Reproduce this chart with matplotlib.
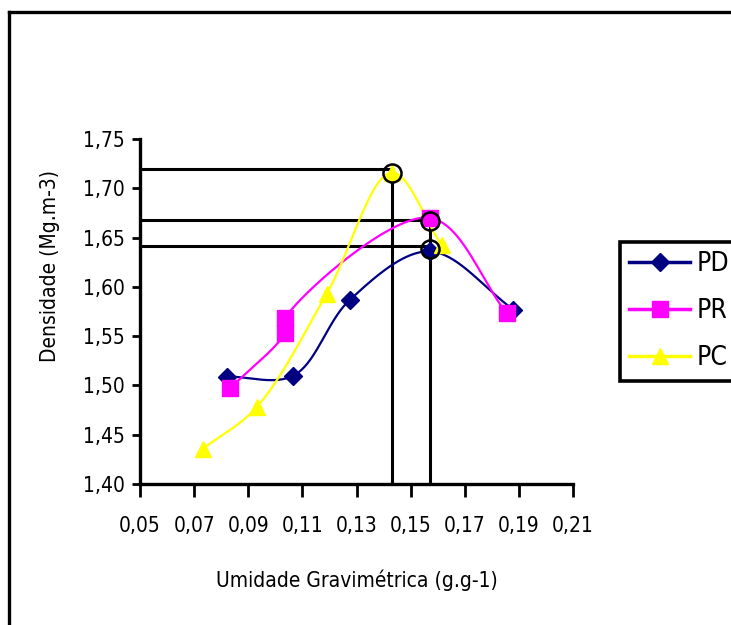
import numpy as np
import matplotlib.pyplot as plt
from matplotlib.lines import Line2D

# moisture (g/g) and bulk density (Mg/m3) for each soil treatment
pd_x = [0.082, 0.1067, 0.1276, 0.157, 0.188]
pd_y = [1.509, 1.510, 1.587, 1.636, 1.577]

pr_x = [0.0833, 0.1034, 0.1036, 0.157, 0.1856]
pr_y = [1.497, 1.553, 1.568, 1.670, 1.573]

pc_x = [0.0734, 0.0931, 0.119, 0.143, 0.1615]
pc_y = [1.436, 1.478, 1.593, 1.716, 1.642]

# optimum moisture / max density read-off per curve
opt_x = [0.143, 0.157, 0.157]
opt_y = [1.720, 1.668, 1.641]
opt_mark_y = [1.716, 1.667, 1.638]

x_ticks = [0.05, 0.07, 0.09, 0.11, 0.13, 0.15, 0.17, 0.19, 0.21]
y_ticks = [1.40, 1.45, 1.50, 1.55, 1.60, 1.65, 1.70, 1.75]

XLIM = (0.05, 0.21)
YLIM = (1.40, 1.75)
FONT = dict(family='DejaVu Sans', stretch='condensed')


def smooth(xs, ys, n=40):
    # centripetal Catmull-Rom through the points, worked out in axis-fraction units
    sx = (np.asarray(xs) - XLIM[0]) / (XLIM[1] - XLIM[0]) * 433
    sy = (np.asarray(ys) - YLIM[0]) / (YLIM[1] - YLIM[0]) * 345
    p = np.column_stack([sx, sy])
    p = np.vstack([2 * p[0] - p[1], p, 2 * p[-1] - p[-2]])
    out = []
    for i in range(1, len(p) - 2):
        p0, p1, p2, p3 = p[i - 1], p[i], p[i + 1], p[i + 2]
        t0 = 0.0
        t1 = t0 + np.linalg.norm(p1 - p0) ** 0.5
        t2 = t1 + np.linalg.norm(p2 - p1) ** 0.5
        t3 = t2 + np.linalg.norm(p3 - p2) ** 0.5
        t = np.linspace(t1, t2, n)[:, None]
        a1 = (t1 - t) / (t1 - t0) * p0 + (t - t0) / (t1 - t0) * p1
        a2 = (t2 - t) / (t2 - t1) * p1 + (t - t1) / (t2 - t1) * p2
        a3 = (t3 - t) / (t3 - t2) * p2 + (t - t2) / (t3 - t2) * p3
        b1 = (t2 - t) / (t2 - t0) * a1 + (t - t0) / (t2 - t0) * a2
        b2 = (t3 - t) / (t3 - t1) * a2 + (t - t1) / (t3 - t1) * a3
        out.append((t2 - t) / (t2 - t1) * b1 + (t - t1) / (t2 - t1) * b2)
    out = np.vstack(out)
    cx = XLIM[0] + out[:, 0] / 433 * (XLIM[1] - XLIM[0])
    cy = YLIM[0] + out[:, 1] / 345 * (YLIM[1] - YLIM[0])
    return cx, cy


fig = plt.figure(figsize=(7.31, 6.25), dpi=100)
ax = fig.add_axes([140 / 731, 1 - 484 / 625, 433 / 731, 345 / 625])

series = [
    ('PD', pd_x, pd_y, '#000080', 'D', 9),
    ('PR', pr_x, pr_y, '#ff00ff', 's', 11),
    ('PC', pc_x, pc_y, '#ffff00', '^', 11),
]
handles = []
for name, xs, ys, col, mk, ms in series:
    cx, cy = smooth(xs, ys)
    ax.plot(cx, cy, color=col, lw=1.6, zorder=3)
    ax.plot(xs, ys, ls='none', marker=mk, ms=ms, color=col, mec=col, zorder=4)
    handles.append(Line2D([], [], color=col, lw=2.5, marker=mk, ms=ms, mec=col))

# guide lines to the optimum points
for xo, yo in zip(opt_x, opt_y):
    ax.plot([XLIM[0], xo], [yo, yo], color='black', lw=2.2, zorder=2)
for xo, yo in zip(opt_x[:2], opt_y[:2]):
    ax.plot([xo, xo], [YLIM[0], yo], color='black', lw=2.2, zorder=2)
ax.plot(opt_x, opt_mark_y, ls='none', marker='o', ms=13, mfc='none',
        mec='black', mew=1.8, zorder=5)

ax.set_xlim(*XLIM)
ax.set_ylim(*YLIM)
ax.set_xticks(x_ticks)
ax.set_yticks(y_ticks)
ax.set_xticklabels([f'{v:.2f}'.replace('.', ',') for v in x_ticks], fontsize=15, **FONT)
ax.set_yticklabels([f'{v:.2f}'.replace('.', ',') for v in y_ticks], fontsize=15, **FONT)
ax.tick_params(axis='x', direction='out', length=9, width=2, pad=14)
ax.tick_params(axis='y', direction='out', length=6, width=2, pad=5)
for s in ['top', 'right']:
    ax.spines[s].set_visible(False)
for s in ['left', 'bottom']:
    ax.spines[s].set_linewidth(2.4)
ax.patch.set_alpha(0)

fig.text(357 / 731, 1 - 580 / 625, 'Umidade Gravimétrica (g.g-1)', ha='center',
         va='center', fontsize=15, **FONT)
fig.text(50 / 731, 1 - 266 / 625, 'Densidade (Mg.m-3)', ha='center', va='center',
         rotation=90, fontsize=15, **FONT)

leg = fig.legend(handles, ['PD', 'PR', 'PC'], loc='upper left',
                 bbox_to_anchor=(620 / 731, 1 - 242 / 625), frameon=True,
                 fancybox=False, framealpha=1, handlelength=2.3, labelspacing=0.8,
                 borderpad=0.35, borderaxespad=0, handletextpad=0.25,
                 prop=dict(size=19, **FONT))
leg.get_frame().set_edgecolor('black')
leg.get_frame().set_linewidth(2.6)

# outer chart-area frame (left and top edges)
fig.add_artist(Line2D([9 / 731, 9 / 731], [0, 1 - 12 / 625], color='black', lw=2.4))
fig.add_artist(Line2D([9 / 731, 1], [1 - 12 / 625, 1 - 12 / 625], color='black', lw=2.4))

fig.savefig('out.png', dpi=100)
